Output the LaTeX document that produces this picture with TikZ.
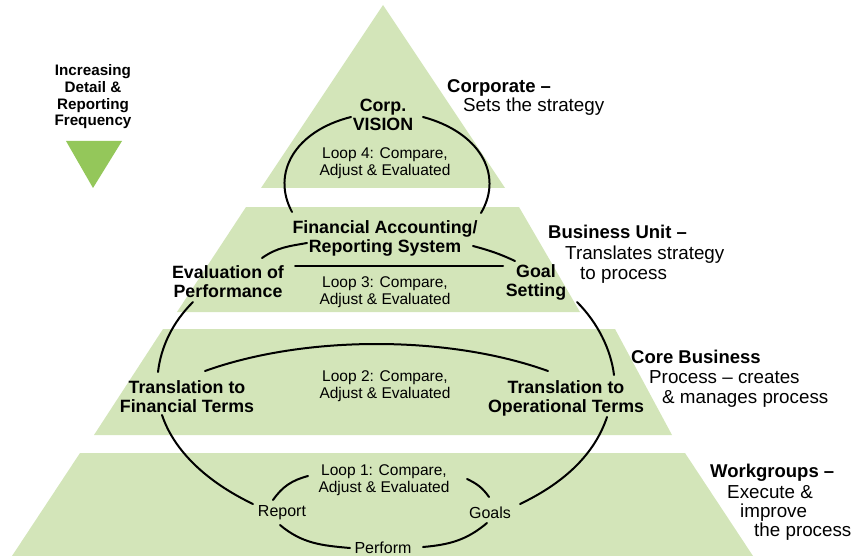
\documentclass[tikz,border=0pt]{standalone}
\usepackage{fontspec}
\setmainfont{Liberation Sans}
\definecolor{tiergreen}{HTML}{D3E5B9}
\definecolor{arrowgreen}{HTML}{94C75A}
\begin{document}
\begin{tikzpicture}[x=1pt,y=1pt,
  tier/.style={fill=tiergreen, draw=none},
  boldlbl/.style={font=\fontsize{17.8}{19}\selectfont\bfseries, align=center, inner sep=0pt},
  looplbl/.style={font=\fontsize{15.5}{17.5}\selectfont, align=center, inner sep=0pt},
  steplbl/.style={font=\fontsize{16}{17}\selectfont, inner sep=0pt},
  headlbl/.style={font=\fontsize{15.2}{16.7}\selectfont\bfseries, align=center, inner sep=0pt},
  side/.style={font=\fontsize{18.8}{20}\selectfont, anchor=base west, inner sep=0pt},
  sidehead/.style={side, font=\bfseries\fontsize{18.5}{20}\selectfont},
  loopline/.style={draw=black, line width=2pt, line cap=round},
]
\useasboundingbox (0,0) rectangle (864,-556);

% pyramid tiers
\fill[tier] (383,-5) -- (505,-188) -- (261,-188) -- cycle;
\fill[tier] (246,-207) -- (519,-207) -- (580,-312) -- (177,-312) -- cycle;
\fill[tier] (163,-329) -- (615,-329) -- (672,-435) -- (94,-435) -- cycle;
\fill[tier] (80,-453) -- (685,-453) -- (753,-556) -- (12,-556) -- cycle;

% legend on the left
\node[headlbl] (inc) at (93,-97) {Increasing\\Detail \&\\Reporting\\Frequency};
\fill[arrowgreen] (66,-141) -- (122,-141) -- (93,-188) -- cycle;

% labels inside the pyramid
\node[boldlbl] (corp) at (383,-115) {Corp.\\VISION};
\node[looplbl] (loop4) at (385,-163) {Loop 4: Compare,\\Adjust \& Evaluated};
\node[boldlbl] (fin) at (385,-238) {Financial Accounting/\\Reporting System};
\node[boldlbl] (eval) at (228,-282) {Evaluation of\\Performance};
\node[boldlbl] (goal) at (536,-282) {Goal\\Setting};
\node[looplbl] (loop3) at (385,-292) {Loop 3: Compare,\\Adjust \& Evaluated};
\node[boldlbl] (tfin) at (187,-397) {Translation to\\Financial Terms};
\node[looplbl] (loop2) at (385,-386) {Loop 2: Compare,\\Adjust \& Evaluated};
\node[boldlbl] (top) at (566,-398) {Translation to\\Operational Terms};
\node[looplbl] (loop1) at (384,-480) {Loop 1: Compare,\\Adjust \& Evaluated};
\node[steplbl] (report) at (282,-513) {Report};
\node[steplbl] (goals) at (490,-513) {Goals};
\node[steplbl] (perform) at (383,-548) {Perform};

% level descriptions on the right
\node[sidehead] (corpT) at (447,-93) {Corporate –};
\node[side] (corpD) at (463,-112) {Sets the strategy};
\node[sidehead] (buT) at (548,-238) {Business Unit –};
\node[side] (buD1) at (565,-259) {Translates strategy};
\node[side] (buD2) at (580,-279) {to process};
\node[sidehead] (cbT) at (631,-363) {Core Business};
\node[side] (cbD1) at (649,-383) {Process – creates};
\node[side] (cbD2) at (662,-403) {\& manages process};
\node[sidehead] (wgT) at (710,-477) {Workgroups –};
\node[side] (wgD1) at (727,-498) {Execute \&};
\node[side] (wgD2) at (740,-517) {improve};
\node[side] (wgD3) at (754,-536) {the process};

% loop 4
\draw[loopline] ([shift={(-32,-2)}]corp.center) .. controls +(-56,-14) and +(-21,39) .. ([shift={(-93,26)}]fin.center);
\draw[loopline] ([shift={(40,-2)}]corp.center) .. controls +(56,-15) and +(23,39) .. ([shift={(96,25)}]fin.center);

% loop 3
\draw[loopline] ([shift={(34,24)}]eval.center) to[out=35,in=190] ([shift={(-78,-5)}]fin.center);
\draw[loopline] ([shift={(67,16)}]eval.center) -- ([shift={(-33,16)}]goal.center);
\draw[loopline] ([shift={(88,-8)}]fin.center) to[out=-15,in=155] ([shift={(-21,21)}]goal.center);

% outer loop through the translation steps
\draw[loopline] ([shift={(-35,-20)}]eval.center) .. controls +(-21,-21) and +(3,25) .. ([shift={(-29,25)}]tfin.center);
\draw[loopline] ([shift={(-25,-18)}]tfin.center) .. controls +(12,-36) and +(-46,22) .. ([shift={(-29,9)}]report.center);
\draw[loopline] ([shift={(41,-20)}]goal.center) .. controls +(21,-21) and +(-3,25) .. ([shift={(48,23)}]top.center);
\draw[loopline] ([shift={(41,-19)}]top.center) .. controls +(-12,-36) and +(46,22) .. ([shift={(30,9)}]goals.center);

% loop 2
\draw[loopline] ([shift={(18,26)}]tfin.center) .. controls +(100,36) and +(-100,36) .. ([shift={(-18,27)}]top.center);

% loop 1
\draw[loopline] ([shift={(-9,13)}]report.center) to[out=55,in=195] ([shift={(-76,4)}]loop1.center);
\draw[loopline] ([shift={(83,1)}]loop1.center) to[out=-25,in=125] ([shift={(-1,16)}]goals.center);
\draw[loopline] ([shift={(-2,-12)}]report.center) to[out=-40,in=175] ([shift={(-33,0)}]perform.center);
\draw[loopline] ([shift={(40,1)}]perform.center) to[out=5,in=-140] ([shift={(-3,-10)}]goals.center);
\end{tikzpicture}
\end{document}
